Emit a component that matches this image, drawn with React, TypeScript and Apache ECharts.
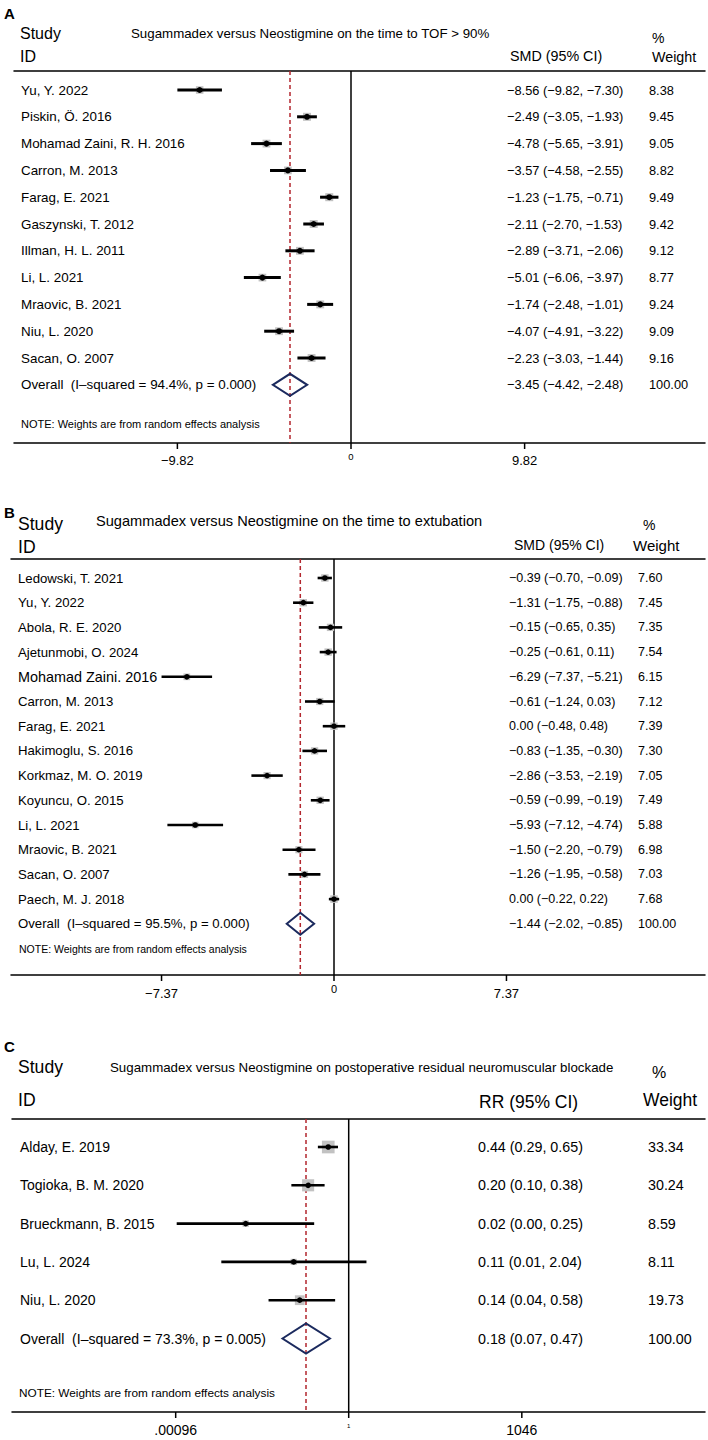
import { useEffect, useRef } from "react";
import * as echarts from "echarts";

const FONT = "'Liberation Sans', Arial, Helvetica, sans-serif";

// ---------- Panel A data ----------
const titleA = "Sugammadex versus Neostigmine on the time to TOF > 90%";
const studiesA = [
  "Yu, Y. 2022", "Piskin, Ö. 2016", "Mohamad Zaini, R. H. 2016", "Carron, M. 2013",
  "Farag, E. 2021", "Gaszynski, T. 2012", "Illman, H. L. 2011", "Li, L. 2021",
  "Mraovic, B. 2021", "Niu, L. 2020", "Sacan, O. 2007",
];
const smdA = [-8.56, -2.49, -4.78, -3.57, -1.23, -2.11, -2.89, -5.01, -1.74, -4.07, -2.23];
const lowA = [-9.82, -3.05, -5.65, -4.58, -1.75, -2.7, -3.71, -6.06, -2.48, -4.91, -3.03];
const highA = [-7.3, -1.93, -3.91, -2.55, -0.71, -1.53, -2.06, -3.97, -1.01, -3.22, -1.44];
const weightA = [8.38, 9.45, 9.05, 8.82, 9.49, 9.42, 9.12, 8.77, 9.24, 9.09, 9.16];
const overallA = [-3.45, -4.42, -2.48];
const overallLabelA = "Overall  (I–squared = 94.4%, p = 0.000)";
const ticksA = [-9.82, 0, 9.82];
const tickLabelsA = ["−9.82", "0", "9.82"];

// ---------- Panel B data ----------
const titleB = "Sugammadex versus Neostigmine on the time to extubation";
const studiesB = [
  "Ledowski, T. 2021", "Yu, Y. 2022", "Abola, R. E. 2020", "Ajetunmobi, O. 2024",
  "Mohamad Zaini. 2016", "Carron, M. 2013", "Farag, E. 2021", "Hakimoglu, S. 2016",
  "Korkmaz, M. O. 2019", "Koyuncu, O. 2015", "Li, L. 2021", "Mraovic, B. 2021",
  "Sacan, O. 2007", "Paech, M. J. 2018",
];
const smdB = [-0.39, -1.31, -0.15, -0.25, -6.29, -0.61, 0.0, -0.83, -2.86, -0.59, -5.93, -1.5, -1.26, 0.0];
const lowB = [-0.7, -1.75, -0.65, -0.61, -7.37, -1.24, -0.48, -1.35, -3.53, -0.99, -7.12, -2.2, -1.95, -0.22];
const highB = [-0.09, -0.88, 0.35, 0.11, -5.21, 0.03, 0.48, -0.3, -2.19, -0.19, -4.74, -0.79, -0.58, 0.22];
const weightB = [7.6, 7.45, 7.35, 7.54, 6.15, 7.12, 7.39, 7.3, 7.05, 7.49, 5.88, 6.98, 7.03, 7.68];
const overallB = [-1.44, -2.02, -0.85];
const overallLabelB = "Overall  (I–squared = 95.5%, p = 0.000)";
const ticksB = [-7.37, 0, 7.37];
const tickLabelsB = ["−7.37", "0", "7.37"];

// ---------- Panel C data ----------
const titleC = "Sugammadex versus Neostigmine on postoperative residual neuromuscular blockade";
const studiesC = ["Alday, E. 2019", "Togioka, B. M. 2020", "Brueckmann, B. 2015", "Lu, L. 2024", "Niu, L. 2020"];
const rrC = [0.44, 0.196, 0.016, 0.11, 0.14];
const lowC = [0.29, 0.1, 0.001, 0.006, 0.04];
const highC = [0.65, 0.38, 0.25, 2.04, 0.58];
const weightC = [33.34, 30.24, 8.59, 8.11, 19.73];
const overallC = [0.18, 0.07, 0.47];
const overallLabelC = "Overall  (I–squared = 73.3%, p = 0.005)";
const ticksC = [0.00096, 1, 1046];
const tickLabelsC = [".00096", "1", "1046"];

const NOTE = "NOTE: Weights are from random effects analysis";

// ---------- layout (positions / styles) ----------
type Panel = {
  letter: string; title: string; effectHead: string;
  names: string[]; est: number[]; low: number[]; high: number[]; weight: number[];
  overall: number[]; overallLabel: string; ticks: number[]; tickLabels: string[];
  log: boolean;
  L: any;
};

const panels: Panel[] = [
  {
    letter: "A", title: titleA, effectHead: "SMD (95% CI)",
    names: studiesA, est: smdA, low: lowA, high: highA, weight: weightA,
    overall: overallA, overallLabel: overallLabelA, ticks: ticksA, tickLabels: tickLabelsA, log: false,
    L: {
      axisLeft: 14, axisRight: 705, topY: 71, axisY: 443, firstRowY: 90, rowStep: 26.8,
      center: 351, ppu: 17.68,
      nameX: 21, statX: 507, weightX: 649, nameFont: 13.4, statFont: 12.8, bigRows: [],
      boxK: 2.6, ciW: 3, dotR: 3, diaH: 11,
      tickFont: 13, nullTickFont: 9.5, tickDy: 17,
      letterPos: [4, 13], studyPos: [20, 33], studyFont: 16, titlePos: [131, 33], titleFont: 13.3,
      pctPos: [652, 38], pctFont: 14, idPos: [20, 56], effPos: [510, 56], effFont: 14.3,
      wPos: [652, 57], wFont: 14.3, notePos: [21, 424], noteFont: 11,
    },
  },
  {
    letter: "B", title: titleB, effectHead: "SMD (95% CI)",
    names: studiesB, est: smdB, low: lowB, high: highB, weight: weightB,
    overall: overallB, overallLabel: overallLabelB, ticks: ticksB, tickLabels: tickLabelsB, log: false,
    L: {
      axisLeft: 11, axisRight: 705, topY: 559, axisY: 975, firstRowY: 578, rowStep: 24.7,
      center: 334, ppu: 23.4,
      nameX: 18, statX: 509, weightX: 638, nameFont: 13.2, statFont: 12.5, bigRows: [4],
      boxK: 2.7, ciW: 2.6, dotR: 2.8, diaH: 11,
      tickFont: 13, nullTickFont: 11, tickDy: 18,
      letterPos: [4, 512], studyPos: [18, 524], studyFont: 17.6, titlePos: [96, 521], titleFont: 14.6,
      pctPos: [643, 525], pctFont: 14, idPos: [18, 547], effPos: [514, 545], effFont: 14,
      wPos: [633, 545], wFont: 15, notePos: [19, 949], noteFont: 10.5,
    },
  },
  {
    letter: "C", title: titleC, effectHead: "RR (95% CI)",
    names: studiesC, est: rrC, low: lowC, high: highC, weight: weightC,
    overall: overallC, overallLabel: overallLabelC, ticks: ticksC, tickLabels: tickLabelsC, log: true,
    L: {
      axisLeft: 12, axisRight: 705, topY: 1119, axisY: 1412, firstRowY: 1147, rowStep: 38.3,
      center: 348.7, ppu: 24.9,
      nameX: 20, statX: 478, weightX: 648, nameFont: 14, statFont: 14.3, bigRows: [],
      boxK: 2.2, ciW: 2.6, dotR: 2.8, diaH: 15,
      tickFont: 14, nullTickFont: 6, tickDy: 18,
      letterPos: [4, 1046], studyPos: [18, 1067], studyFont: 17.6, titlePos: [110, 1067], titleFont: 13.3,
      pctPos: [652, 1072], pctFont: 16, idPos: [18, 1100], effPos: [479, 1102], effFont: 17.5,
      wPos: [643, 1100], wFont: 17.5, notePos: [19, 1393], noteFont: 11.8,
    },
  },
];

const fmt = (v: number) => v.toFixed(2).replace("-", "\u2212");

const txt = (x: number, y: number, text: string, size: number, extra: any = {}) => ({
  type: "text",
  x,
  y,
  style: {
    text,
    fontSize: size,
    fontFamily: FONT,
    fill: "#000",
    align: "left",
    verticalAlign: "middle",
    ...extra,
  },
});

function buildOption() {
  const grid: any[] = [];
  const xAxis: any[] = [];
  const yAxis: any[] = [];
  const series: any[] = [];
  const graphic: any[] = [];

  panels.forEach((p, gi) => {
    const L = p.L;
    grid.push({
      left: L.axisLeft,
      top: L.topY,
      width: L.axisRight - L.axisLeft,
      height: L.axisY - L.topY,
      containLabel: false,
      outerBoundsMode: "none",
    });
    const axisLine = { show: true, onZero: false, lineStyle: { color: "#000", width: 1.5 } };
    const hidden = { axisTick: { show: false }, axisLabel: { show: false }, splitLine: { show: false } };
    if (p.log) {
      const k = L.ppu * Math.LN10;
      xAxis.push({
        gridIndex: gi, type: "log", logBase: 10, position: "bottom",
        min: Math.pow(10, (L.axisLeft - L.center) / k),
        max: Math.pow(10, (L.axisRight - L.center) / k),
        axisLine, ...hidden,
      });
    } else {
      xAxis.push({
        gridIndex: gi, type: "value", position: "bottom",
        min: (L.axisLeft - L.center) / L.ppu,
        max: (L.axisRight - L.center) / L.ppu,
        axisLine, ...hidden,
      });
    }
    yAxis.push({
      gridIndex: gi, type: "value", inverse: true, show: false,
      min: (L.topY - L.firstRowY) / L.rowStep,
      max: (L.axisY - L.firstRowY) / L.rowStep,
    });
  });
  // top border axes
  panels.forEach((p, gi) => {
    xAxis.push({
      gridIndex: gi, type: "value", position: "top", min: 0, max: 1,
      axisLine: { show: true, onZero: false, lineStyle: { color: "#000", width: 1.5 } },
      axisTick: { show: false }, axisLabel: { show: false }, splitLine: { show: false },
    });
  });

  panels.forEach((p, gi) => {
    const L = p.L;
    const nullVal = p.log ? 1 : 0;
    const nRows = p.names.length;
    const base = { type: "custom", coordinateSystem: "cartesian2d", xAxisIndex: gi, yAxisIndex: gi, silent: true, clip: false };

    // reference lines
    series.push({
      ...base, z: 1,
      data: [[p.overall[0], 0]],
      renderItem: (params: any, api: any) => {
        const cs = params.coordSys;
        const xn = api.coord([nullVal, 0])[0];
        const xe = api.coord([api.value(0), 0])[0];
        return {
          type: "group",
          children: [
            { type: "line", shape: { x1: xn, y1: cs.y, x2: xn, y2: cs.y + cs.height }, style: { stroke: "#000", lineWidth: 1.5 } },
            { type: "line", shape: { x1: xe, y1: cs.y, x2: xe, y2: cs.y + cs.height }, style: { stroke: "#b3262e", lineWidth: 1.5, lineDash: [4, 3] } },
          ],
        };
      },
    });

    // ticks + tick labels
    series.push({
      ...base, z: 2,
      data: p.ticks.map((t) => [t, 0]),
      renderItem: (params: any, api: any) => {
        const cs = params.coordSys;
        const i = params.dataIndex;
        const x = api.coord([api.value(0), 0])[0];
        const by = cs.y + cs.height;
        const isNull = p.ticks[i] === nullVal;
        return {
          type: "group",
          children: [
            { type: "line", shape: { x1: x, y1: by, x2: x, y2: by + 6 }, style: { stroke: "#000", lineWidth: 1.5 } },
            txt(x, by + (isNull ? L.tickDy - 4 : L.tickDy), p.tickLabels[i], isNull ? L.nullTickFont : L.tickFont, { align: "center" }),
          ],
        };
      },
    });

    // studies: box, CI, point
    series.push({
      ...base, z: 3,
      data: p.names.map((_, i) => [p.est[i], i, p.low[i], p.high[i], p.weight[i]]),
      renderItem: (params: any, api: any) => {
        const row = api.value(1);
        const c = api.coord([api.value(0), row]);
        const l = api.coord([api.value(2), row]);
        const h = api.coord([api.value(3), row]);
        const s = L.boxK * Math.sqrt(api.value(4));
        return {
          type: "group",
          children: [
            { type: "rect", shape: { x: c[0] - s / 2, y: c[1] - s / 2, width: s, height: s }, style: { fill: "#c2c2c2" } },
            { type: "line", shape: { x1: l[0], y1: l[1], x2: h[0], y2: h[1] }, style: { stroke: "#000", lineWidth: L.ciW } },
            { type: "circle", shape: { cx: c[0], cy: c[1], r: L.dotR }, style: { fill: "#000" } },
          ],
        };
      },
    });

    // row texts
    series.push({
      ...base, z: 4,
      data: p.names.map((_, i) => [nullVal, i]),
      renderItem: (params: any, api: any) => {
        const i = params.dataIndex;
        const y = api.coord([nullVal, api.value(1)])[1];
        const nf = L.bigRows.includes(i) ? 14.4 : L.nameFont;
        return {
          type: "group",
          children: [
            txt(L.nameX, y, p.names[i], nf),
            txt(L.statX, y, `${fmt(p.est[i])} (${fmt(p.low[i])}, ${fmt(p.high[i])})`, L.statFont),
            txt(L.weightX, y, p.weight[i].toFixed(2), L.statFont),
          ],
        };
      },
    });

    // overall diamond + texts
    series.push({
      ...base, z: 5,
      data: [[p.overall[0], nRows, p.overall[1], p.overall[2]]],
      renderItem: (params: any, api: any) => {
        const row = api.value(1);
        const c = api.coord([api.value(0), row]);
        const l = api.coord([api.value(2), row]);
        const h = api.coord([api.value(3), row]);
        const y = c[1];
        const total = p.weight.reduce((a, b) => a + b, 0);
        return {
          type: "group",
          children: [
            {
              type: "polygon",
              shape: { points: [[l[0], y], [c[0], y - L.diaH], [h[0], y], [c[0], y + L.diaH]] },
              style: { fill: "none", stroke: "#1b2a5e", lineWidth: 2, lineJoin: "miter" },
            },
            txt(L.nameX, y, p.overallLabel, L.nameFont),
            txt(L.statX, y, `${fmt(p.overall[0])} (${fmt(p.overall[1])}, ${fmt(p.overall[2])})`, L.statFont),
            txt(L.weightX, y, Math.round(total).toFixed(2), L.statFont),
          ],
        };
      },
    });

    // headers
    graphic.push(txt(L.letterPos[0], L.letterPos[1], p.letter, 15, { fontWeight: "bold" }));
    graphic.push(txt(L.studyPos[0], L.studyPos[1], "Study", L.studyFont));
    graphic.push(txt(L.titlePos[0], L.titlePos[1], p.title, L.titleFont));
    graphic.push(txt(L.pctPos[0], L.pctPos[1], "%", L.pctFont));
    graphic.push(txt(L.idPos[0], L.idPos[1], "ID", L.studyFont));
    graphic.push(txt(L.effPos[0], L.effPos[1], p.effectHead, L.effFont));
    graphic.push(txt(L.wPos[0], L.wPos[1], "Weight", L.wFont));
    graphic.push(txt(L.notePos[0], L.notePos[1], NOTE, L.noteFont));
  });

  return {
    animation: false,
    backgroundColor: "#fff",
    textStyle: { fontFamily: FONT },
    grid, xAxis, yAxis, series, graphic,
  };
}

export default function App() {
  const ref = useRef<HTMLDivElement>(null);
  useEffect(() => {
    document.body.style.margin = "0";
    if (!ref.current) return;
    const chart = echarts.init(ref.current, undefined, { renderer: "svg" });
    chart.setOption(buildOption() as any);
    return () => chart.dispose();
  }, []);
  return <div ref={ref} style={{ width: 708, height: 1440 }} />;
}
